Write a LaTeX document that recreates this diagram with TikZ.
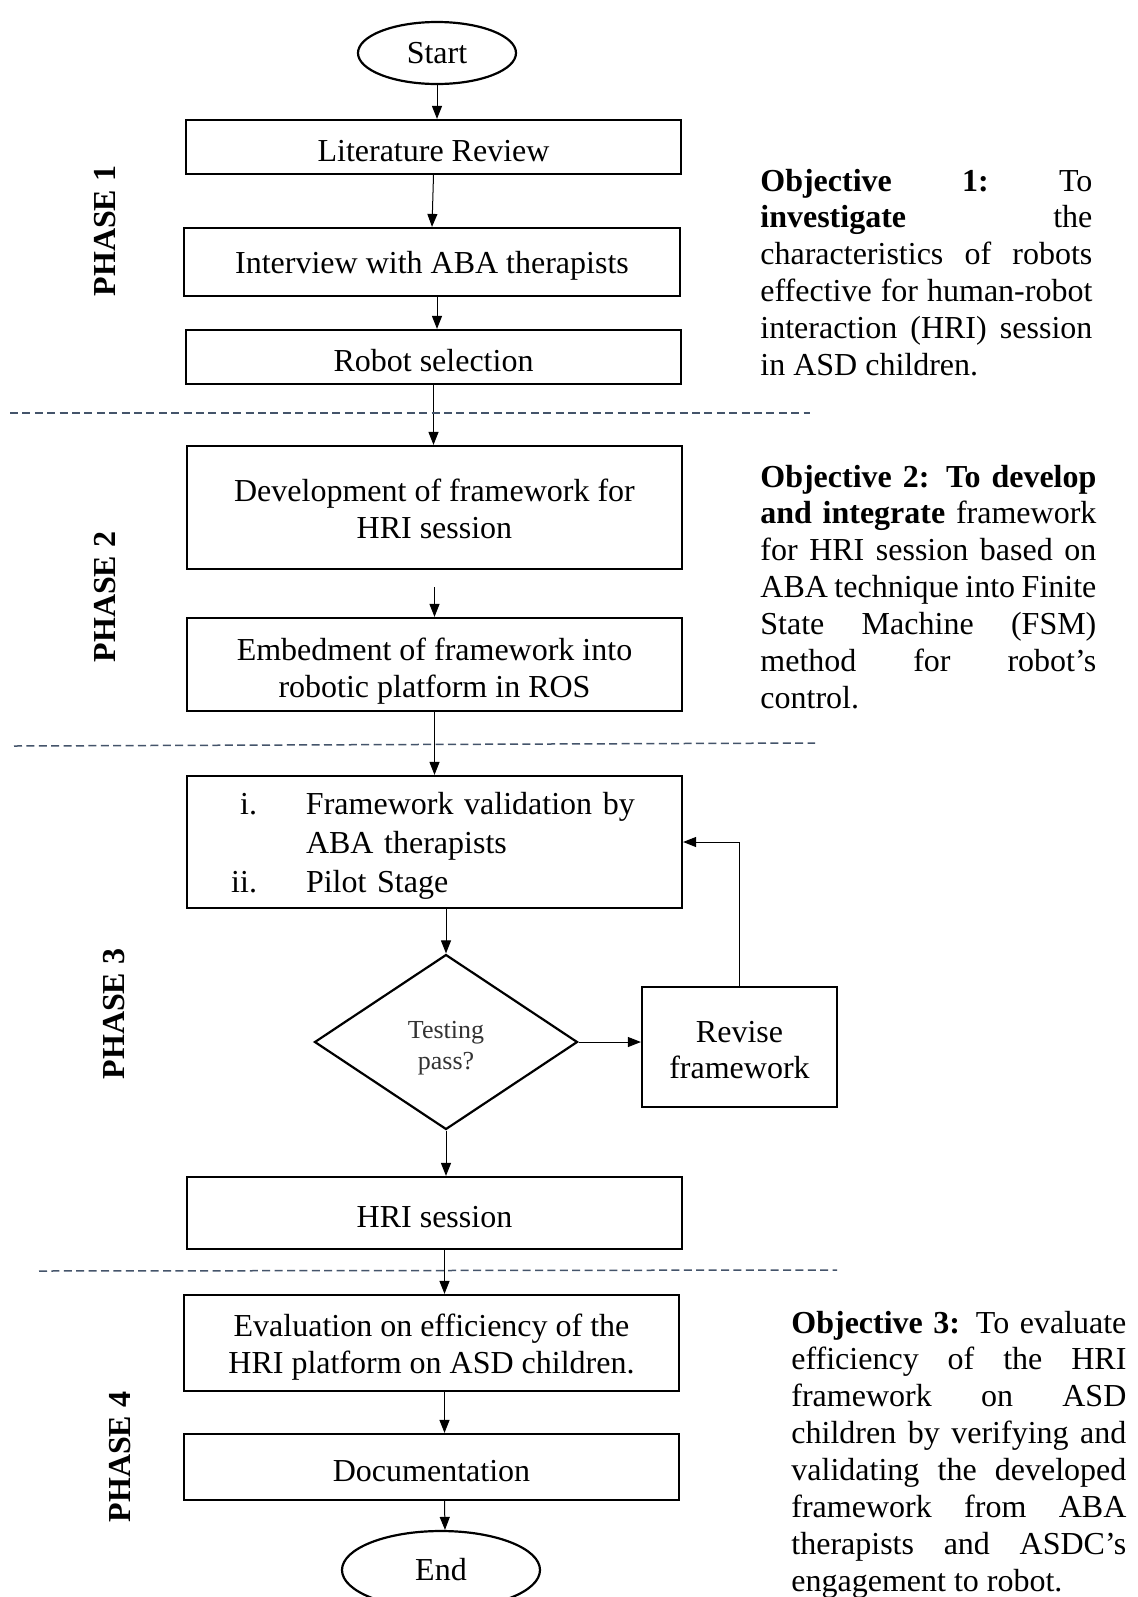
\documentclass[tikz,border=0pt]{standalone}
\usepackage{fontspec}
\setmainfont{Liberation Serif}
\usetikzlibrary{shapes.geometric,arrows.meta,calc}

\definecolor{sepblue}{HTML}{44546A}

% invisible strut that pushes the first line of a node's text down
\newcommand{\topgap}[1]{\rule{0pt}{#1}}

\tikzset{
  box/.style={draw, line width=1.1pt, rectangle, inner sep=0pt, align=center,
              minimum width=247.5pt, execute at begin node={\rule{0pt}{15pt}}},
  term/.style={draw, line width=1.1pt, ellipse, inner sep=0pt},
  decision/.style={draw, line width=1.1pt, diamond, inner sep=0pt, align=center,
                   font=\fontsize{13}{15.3}\selectfont, text=black!80},
  arr/.style={line width=0.5pt, -{Triangle[length=6.5pt,width=5pt]}},
  sep/.style={draw=sepblue, line width=0.75pt, dash pattern=on 4pt off 2.2pt},
  phase/.style={rotate=90, font=\fontsize{16}{18}\selectfont\bfseries, inner sep=0pt},
  objective/.style={anchor=base west, inner sep=0pt, align=justify,
                    font=\fontsize{16}{18.45}\selectfont}
}

\begin{document}
\begin{tikzpicture}[x=0.5pt, y=-0.5pt, font=\fontsize{16}{18.4}\selectfont]
\useasboundingbox (0,0) rectangle (1138,1597);
\clip (0,0) rectangle (1138,1597);
\fill[white] (0,0) rectangle (1138,1597);

% flow of the four phases
\node[term, minimum width=79pt, minimum height=31pt] (start) at (437,53) {Start};
\node[box, minimum height=27pt] (lit) at (433.5,147) {Literature Review};
\node[box, minimum width=248pt, minimum height=34pt] (int) at (432,262) {Interview with ABA therapists};
\node[box, minimum height=27pt] (rob) at (433.5,357) {Robot selection};

\node[box, minimum height=61.5pt] (dev) at (434.5,507.5) {\topgap{12.5pt}Development of framework for\\HRI session};
\node[box, minimum height=46.5pt] (emb) at (434.5,664.5) {\topgap{18pt}Embedment of framework into\\robotic platform in ROS};

\node[box, minimum height=66pt, text width=247.5pt, align=left,
      font=\fontsize{16}{19.3}\selectfont] (val) at (434.5,842)
  {\makebox[35pt][r]{i.}\hspace*{24.5pt}Framework validation by\\
   \hspace*{59.5pt}ABA therapists\\
   \makebox[35pt][r]{ii.}\hspace*{24.5pt}Pilot Stage};
\node[decision, minimum width=131.5pt, minimum height=87.5pt] (dia) at (446,1042) {\topgap{14.6pt}Testing\\pass?};
\node[box, minimum width=97.5pt, minimum height=60pt] (rev) at (739.5,1047) {\topgap{13.6pt}Revise\\framework};
\node[box, minimum height=36pt] (hri) at (434.5,1213) {HRI session};

\node[box, minimum height=48pt] (eval) at (431.5,1343) {\topgap{15pt}Evaluation on efficiency of the\\HRI platform on ASD children.};
\node[box, minimum height=33pt] (doc) at (431.5,1467) {Documentation};
\node[term, minimum width=99pt, minimum height=39pt] (end) at (441,1570) {End};

% connectors
\draw[arr] (start.south) -- (start.south |- lit.north);
\draw[arr] (lit.south) -- (int.north);
\draw[arr] (start.south |- int.south) -- (start.south |- rob.north);
\draw[arr] (rob.south) -- (rob.south |- dev.north);
\draw[arr] ([yshift=-8.5pt]dev.south) -- (emb.north);
\draw[arr] (emb.south) -- (val.north);
\draw[arr] (dia.north |- val.south) -- (dia.north);
\draw[arr] (dia.east) -- (dia.east -| rev.west);
\draw[arr] (rev.north) |- (val.east);
\draw[arr] (dia.south) -- (dia.south |- hri.north);
\draw[arr] ($(hri.south)+(10,0)$) -- ($(eval.north)+(13,0)$);
\draw[arr] ($(eval.south)+(13,0)$) -- ($(doc.north)+(13,0)$);
\draw[arr] ($(doc.south)+(13,0)$) -- ($(end.north)+(4,0)$);

% phase separators
\draw[sep] (10,413) -- (810,413);
\draw[sep] (14,746) -- (815,743);
\draw[sep] (39,1271) -- (837,1270);

% phase labels
\node[phase] (p1) at (105,231) {PHASE 1};
\node[phase] (p2) at (105,597) {PHASE 2};
\node[phase] (p3) at (114,1014) {PHASE 3};
\node[phase] (p4) at (120,1457) {PHASE 4};

% objectives
\node[objective, text width=166pt] (o1) at (760,191)
  {\textbf{Objective\hfill 1:}\hfill To\linebreak
   \textbf{investigate}\hfill the\linebreak
   characteristics of robots\linebreak
   effective for human-robot\linebreak
   interaction (HRI) session\linebreak
   in ASD children.};
\node[objective, text width=168pt] (o2) at (760,487)
  {\textbf{Objective 2: To develop}\linebreak
   \textbf{and integrate} framework\linebreak
   for HRI session based on\linebreak
   ABA technique into Finite\linebreak
   State Machine (FSM)\linebreak
   method for robot's\linebreak
   control.};
\node[objective, text width=167.5pt] (o3) at (791,1333)
  {\textbf{Objective 3:} To evaluate\linebreak
   efficiency of the HRI\linebreak
   framework on ASD\linebreak
   children by verifying and\linebreak
   validating the developed\linebreak
   framework from ABA\linebreak
   therapists and ASDC's\linebreak
   engagement to robot.};
\end{tikzpicture}
\end{document}
